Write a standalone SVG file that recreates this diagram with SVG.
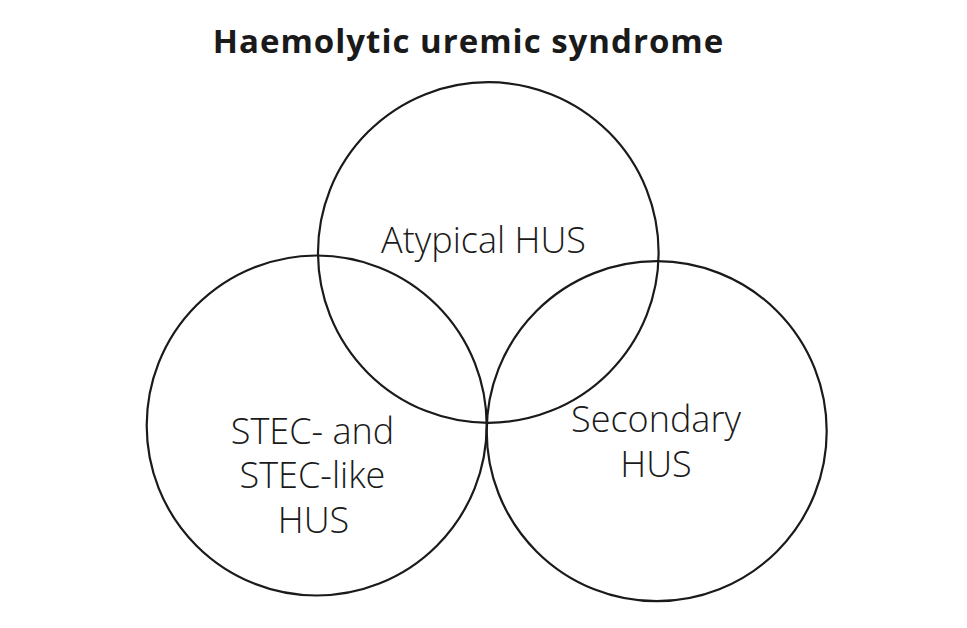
<svg xmlns="http://www.w3.org/2000/svg" width="967" height="628" viewBox="0 0 967 628">
<style>
.c{fill:none;stroke:#1a1a1a;stroke-width:2.2}
.t{font-family:"Open Sans","Noto Sans","Liberation Sans",sans-serif;font-size:36px;font-weight:300;fill:#1a1a1a;text-anchor:middle}
.h{font-family:"Open Sans","Noto Sans","Liberation Sans",sans-serif;font-size:33px;font-weight:700;letter-spacing:1px;fill:#1a1a1a;text-anchor:middle}
</style>
<rect width="967" height="628" fill="#fff"/>
<text class="h" x="468.5" y="52.5">Haemolytic uremic syndrome</text>
<g id="atypical">
<circle class="c" cx="488.3" cy="252.5" r="170.3"/>
<text class="t" x="483.5" y="252.5">Atypical HUS</text>
</g>
<g id="stec">
<circle class="c" cx="316.7" cy="425.5" r="170"/>
<text class="t" x="312.5" y="443.5">STEC- and</text>
<text class="t" x="312.5" y="488">STEC-like</text>
<text class="t" x="313.5" y="533">HUS</text>
</g>
<g id="secondary">
<circle class="c" cx="656.7" cy="431.2" r="170"/>
<text class="t" x="656" y="431.7">Secondary</text>
<text class="t" x="656" y="476.7">HUS</text>
</g>
</svg>
